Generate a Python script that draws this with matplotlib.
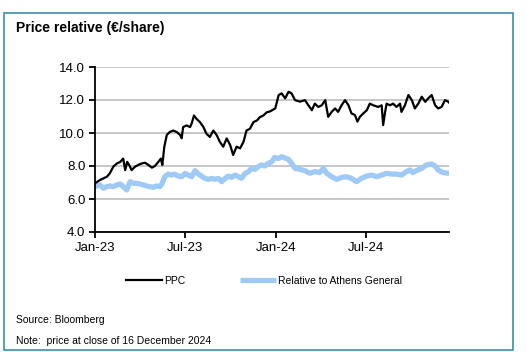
import matplotlib
matplotlib.use("Agg")
import matplotlib.pyplot as plt
import matplotlib.dates as mdates
from matplotlib.patches import Rectangle
import pandas as pd

plt.rcParams['font.family'] = ['Liberation Sans', 'DejaVu Sans']

start = pd.Timestamp("2023-01-01")
end = pd.Timestamp("2024-12-16")

# PPC share price (EUR), days since 1 Jan 2023
ppc_days = [0, 10, 17, 24, 30, 37, 44, 51, 57, 61, 65, 69, 74, 81, 87, 94, 101, 108,
            115, 121, 128, 133, 136, 140, 145, 151, 158, 165, 172, 175, 178, 185, 192,
            195, 200, 205, 212, 219, 225, 232, 239, 246, 252, 259, 266, 273, 279, 286,
            293, 300, 306, 313, 320, 327, 333, 340, 347, 353, 364, 371, 377, 384, 391,
            397, 404, 414, 424, 431, 438, 444, 451, 458, 465, 471, 478, 485, 491, 498,
            505, 512, 518, 525, 530, 535, 542, 549, 555, 562, 572, 579, 582, 586, 589,
            596, 602, 609, 616, 619, 626, 633, 640, 646, 653, 660, 667, 673, 680, 687,
            693, 700, 707, 714, 715]
ppc = [6.95, 7.15, 7.25, 7.35, 7.56, 7.96, 8.15, 8.25, 8.45, 7.75, 8.25, 8.06, 7.75,
       7.96, 8.06, 8.15, 8.2, 8.06, 7.9, 8.0, 8.25, 8.45, 8.06, 9.17, 9.88, 10.06,
       10.15, 10.06, 9.88, 9.68, 10.36, 10.46, 10.36, 10.56, 11.06, 10.86, 10.66,
       10.36, 9.96, 9.76, 10.15, 9.86, 9.47, 9.17, 9.67, 9.27, 8.67, 9.17, 9.07, 9.47,
       10.15, 10.26, 10.66, 10.76, 10.96, 11.06, 11.26, 11.3, 11.49, 12.3, 12.4, 12.1,
       12.5, 12.4, 11.99, 11.9, 11.99, 11.68, 11.38, 11.78, 11.58, 11.68, 11.99, 10.98,
       11.28, 11.49, 11.28, 11.68, 11.99, 11.68, 11.19, 11.09, 10.69, 10.98, 11.19,
       11.38, 11.78, 11.68, 11.58, 11.68, 10.48, 11.28, 11.78, 11.68, 11.78, 11.58,
       11.78, 11.28, 11.68, 12.3, 11.99, 11.49, 11.78, 12.2, 11.89, 12.1, 12.3, 11.68,
       11.49, 11.58, 11.99, 11.89, 11.85]

# PPC relative to Athens General index
rel_days = [0, 10, 17, 24, 30, 37, 44, 51, 57, 64, 71, 77, 84, 91, 98, 104, 111, 118,
            124, 131, 135, 141, 148, 155, 161, 168, 175, 182, 188, 195, 202, 209, 215,
            222, 229, 236, 242, 249, 256, 263, 269, 276, 283, 290, 296, 303, 310, 316,
            323, 330, 336, 343, 350, 357, 363, 370, 377, 391, 397, 404, 414, 424, 434,
            444, 454, 461, 468, 478, 488, 498, 508, 518, 528, 538, 549, 559, 569, 579,
            589, 599, 609, 619, 629, 636, 642, 649, 660, 669, 680, 687, 693, 703, 714, 715]
rel = [6.75, 6.85, 6.65, 6.75, 6.79, 6.75, 6.85, 6.91, 6.75, 6.55, 7.05, 6.95, 6.95,
       6.91, 6.85, 6.79, 6.75, 6.71, 6.79, 6.75, 6.91, 7.35, 7.51, 7.45, 7.51, 7.39,
       7.35, 7.55, 7.45, 7.35, 7.72, 7.51, 7.39, 7.25, 7.19, 7.25, 7.19, 7.25, 7.05,
       7.25, 7.39, 7.31, 7.45, 7.35, 7.25, 7.55, 7.65, 7.86, 7.8, 7.96, 8.06, 8.0, 8.16,
       8.26, 8.52, 8.46, 8.56, 8.4, 8.16, 7.86, 7.8, 7.72, 7.56, 7.66, 7.6, 7.86, 7.56,
       7.35, 7.19, 7.31, 7.35, 7.25, 7.05, 7.25, 7.39, 7.45, 7.35, 7.45, 7.56, 7.51,
       7.51, 7.45, 7.66, 7.76, 7.6, 7.72, 7.86, 8.06, 8.12, 8.0, 7.76, 7.6, 7.56, 7.56]

y_ticks = [4.0, 6.0, 8.0, 10.0, 12.0, 14.0]
x_ticks = ["2023-01-01", "2023-07-01", "2024-01-01", "2024-07-01"]

ppc_dates = start + pd.to_timedelta(ppc_days, unit="D")
rel_dates = start + pd.to_timedelta(rel_days, unit="D")

fig = plt.figure(figsize=(5.26, 3.52), dpi=100)
ax = fig.add_axes([95 / 526, 1 - 232 / 352, (449 - 95) / 526, (232 - 67) / 352])

ax.plot(ppc_dates, ppc, color="black", lw=1.6, label="PPC", zorder=3)
ax.plot(rel_dates, rel, color="#9fcaf5", lw=3.8, label="Relative to Athens General",
        zorder=2, solid_capstyle="butt")

ax.set_xlim(start, end)
ax.set_ylim(4, 14)
ax.set_yticks(y_ticks)
ax.set_yticklabels([f"{v:.1f}" for v in y_ticks])
ax.set_xticks(pd.to_datetime(x_ticks))
ax.xaxis.set_major_formatter(mdates.DateFormatter("%b-%y"))
ax.grid(axis="y", color="#bdbdbd", lw=1.2)
ax.set_axisbelow(True)
for s in ["top", "right"]:
    ax.spines[s].set_visible(False)
ax.spines["left"].set_linewidth(1.3)
ax.spines["bottom"].set_linewidth(1.3)
ax.tick_params(labelsize=9.5, length=4, width=1.3, direction="out", pad=3)

fig.legend(loc="center", bbox_to_anchor=(264 / 526, 1 - 281 / 352), ncol=2,
           frameon=False, fontsize=7.5, handlelength=3.5, handletextpad=0.2,
           columnspacing=5.2)

fig.text(16 / 526, 1 - 28 / 352, "Price relative (€/share)", fontsize=10,
         fontweight="bold", va="center")
fig.text(16 / 526, 1 - 320 / 352, "Source: Bloomberg", fontsize=7.5, va="center")
fig.text(16 / 526, 1 - 341 / 352, "Note:  price at close of 16 December 2024",
         fontsize=7.5, va="center")

fig.patches.append(Rectangle((3.5 / 526, 1 - 349.5 / 352), 509 / 526, 336.5 / 352,
                             transform=fig.transFigure, fill=False,
                             edgecolor="#3a8fad", lw=1.2))

fig.savefig("out.png", dpi=100)
